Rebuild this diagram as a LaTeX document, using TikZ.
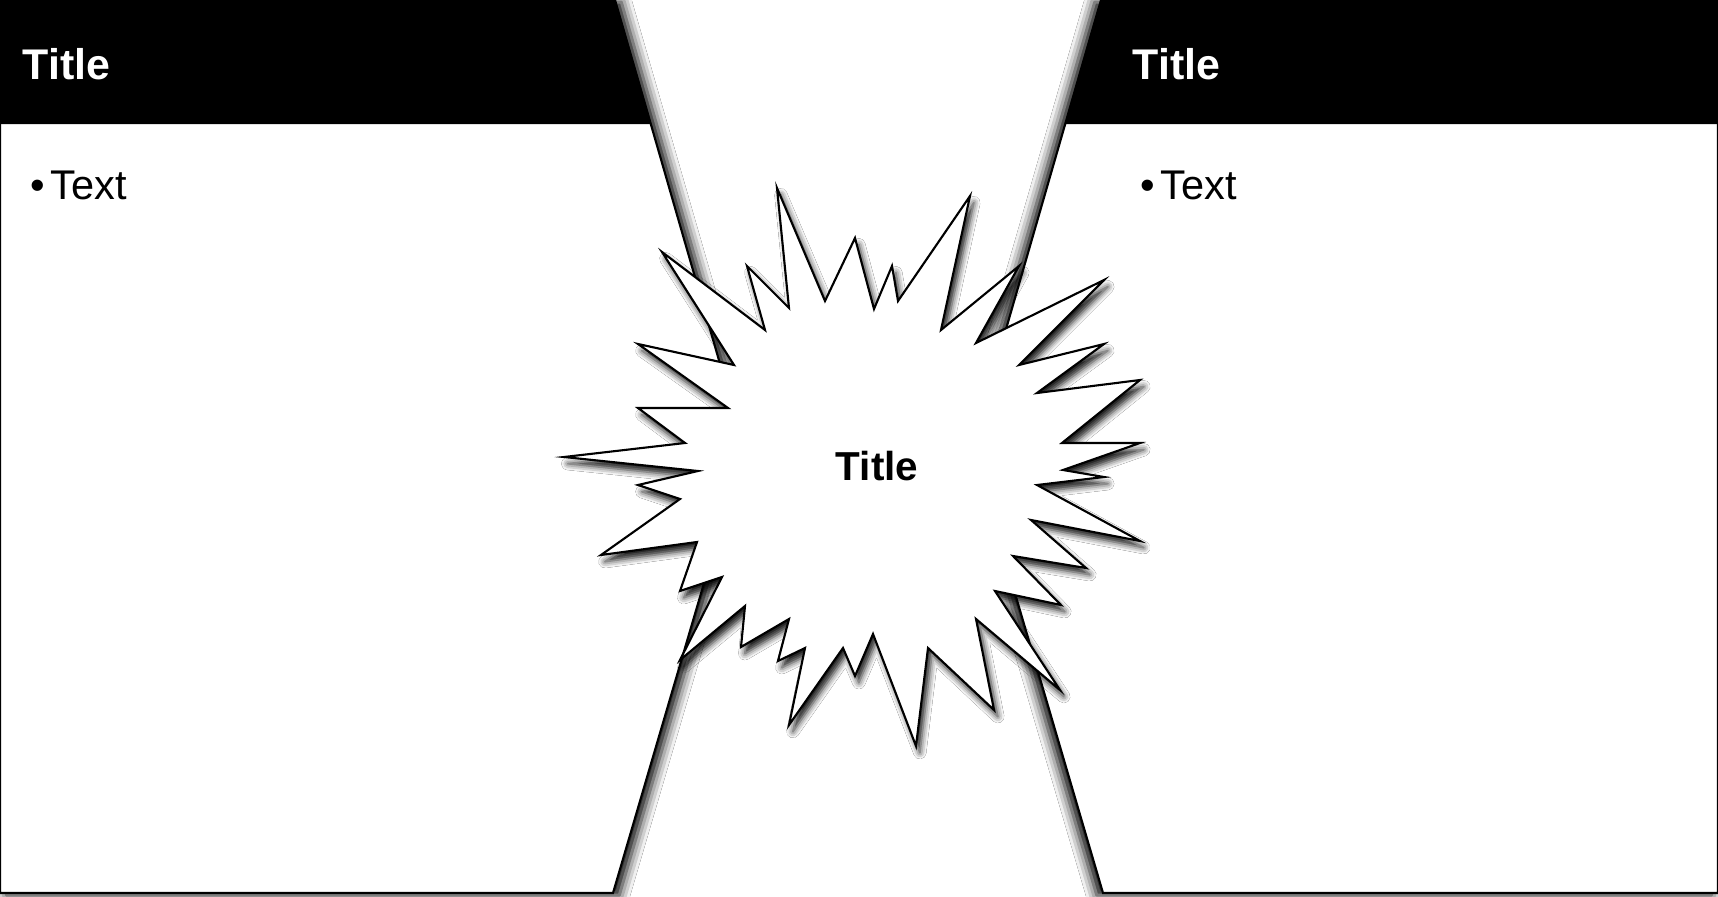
\documentclass[tikz,border=0pt]{standalone}
\usepackage{fontspec}
\setmainfont{Liberation Sans}
\usetikzlibrary{shadows.blur}

\begin{document}
\begin{tikzpicture}[x=0.01cm, y=-0.01cm,
    panel/.style={fill=white, draw=black, line width=0.6pt},
    panelshade/.style={blur shadow={shadow xshift=#1, shadow yshift=-0.6pt,
        shadow blur radius=3pt, shadow opacity=100}},
    header/.style={fill=black},
    burst/.style={fill=white, draw=black, line width=0.6pt,
        blur shadow={shadow xshift=1.1pt, shadow yshift=-1.9pt,
        shadow blur radius=1.8pt, shadow opacity=90}},
    headtitle/.style={text=white, font=\bfseries\fontsize{12.2}{14}\selectfont,
        anchor=base west, inner sep=0pt},
    bodytext/.style={font=\fontsize{11.8}{13}\selectfont, anchor=base west, inner sep=0pt},
    bursttitle/.style={font=\bfseries\fontsize{11.5}{13}\selectfont, anchor=base, inner sep=0pt}]
  \useasboundingbox (0,0) rectangle (1718,897);
  \fill[white] (0,0) rectangle (1718,897);

  \path[panel, panelshade=1.8pt] (0,0) -- (615,0) -- (744,447) -- (613,893) -- (0,893) -- cycle;
  \path[panel, panelshade=-1.8pt] (1718,0) -- (1101,0) -- (972,447) -- (1103,893) -- (1718,893) -- cycle;
  \fill[header] (0,0) -- (615,0) -- (651,124) -- (0,124) -- cycle;
  \fill[header] (1101,0) -- (1718,0) -- (1718,124) -- (1065,124) -- cycle;

  \node (lefttitle) [headtitle] at (22,79) {Title};
  \node (righttitle) [headtitle] at (1132,79) {Title};
  \node (lefttext) [bodytext] at (30,199) {\textbullet\hspace{1.6pt}Text};
  \node (righttext) [bodytext] at (1140,199) {\textbullet\hspace{1.6pt}Text};

  \path[burst] (662,252) -- (765,330) -- (747,266) -- (789,308) -- (777,188) -- (825,301)
    -- (855,238) -- (874,309) -- (892,266) -- (898,301) -- (970,196) -- (941,330)
    -- (1019,266) -- (976,343) -- (1104,280) -- (1019,365) -- (1104,344) -- (1037,393)
    -- (1140,380) -- (1062,443) -- (1140,443) -- (1063,470) -- (1104,477) -- (1037,485)
    -- (1140,541) -- (1031,520) -- (1086,568) -- (1013,556) -- (1061,605) -- (995,591)
    -- (1060,690) -- (976,619) -- (994,710) -- (928,648) -- (916,746) -- (873,634)
    -- (855,676) -- (843,648) -- (789,725) -- (805,648) -- (778,661) -- (789,619)
    -- (741,647) -- (745,606) -- (680,660) -- (722,577) -- (680,591) -- (697,542)
    -- (601,555) -- (680,499) -- (638,485) -- (698,471) -- (564,457) -- (685,443)
    -- (638,408) -- (728,408) -- (638,344) -- (734,365) -- cycle;
  \node (bursttitle) [bursttitle] at (877,480) {Title};
\end{tikzpicture}
\end{document}
